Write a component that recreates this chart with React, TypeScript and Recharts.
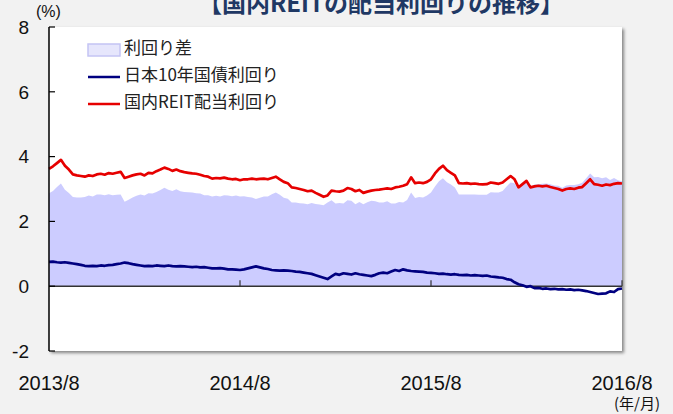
import React from 'react';
import { ComposedChart, Area, Line, XAxis, YAxis, ReferenceLine } from 'recharts';

// Time axis: months since 2013/8, sampled four times per month (weekly)
const samplesPerMonth = 4;
const xTicks = [0, 12, 24, 36];
const xTickLabels = ['2013/8', '2014/8', '2015/8', '2016/8'];
const yTicks = [-2, 0, 2, 4, 6, 8];

const titleText = '【国内REITの配当利回りの推移】';
const yUnit = '(%)';
const xUnit = '(年/月)';
const spreadName = '利回り差';
const jgbName = '日本10年国債利回り';
const reitName = '国内REIT配当利回り';

const reitYield = [
  3.62, 3.70, 3.80, 3.90, 3.72, 3.60, 3.45, 3.42, 3.40, 3.38,
  3.42, 3.40, 3.45, 3.47, 3.44, 3.49, 3.47, 3.50, 3.53, 3.34,
  3.38, 3.42, 3.45, 3.47, 3.42, 3.50, 3.48, 3.55, 3.60, 3.66,
  3.62, 3.56, 3.60, 3.55, 3.52, 3.50, 3.48, 3.47, 3.44, 3.40,
  3.38, 3.32, 3.34, 3.33, 3.35, 3.32, 3.30, 3.31, 3.27, 3.30,
  3.30, 3.32, 3.30, 3.31, 3.32, 3.30, 3.34, 3.38, 3.30, 3.22,
  3.18, 3.05, 3.03, 3.00, 2.97, 2.93, 2.95, 2.88, 2.82, 2.76,
  2.80, 2.95, 2.93, 2.92, 2.95, 3.03, 3.00, 2.93, 2.97, 2.88,
  2.92, 2.95, 2.97, 2.98, 3.00, 3.02, 3.00, 3.05, 3.07, 3.10,
  3.15, 3.36, 3.18, 3.20, 3.18, 3.22, 3.30, 3.48, 3.62, 3.72,
  3.58, 3.50, 3.42, 3.18, 3.17, 3.18, 3.16, 3.17, 3.15, 3.14,
  3.15, 3.20, 3.18, 3.16, 3.20, 3.30, 3.40, 3.30, 3.05, 3.15,
  3.25, 3.05, 3.08, 3.10, 3.08, 3.10, 3.06, 3.03, 3.00, 2.95,
  3.00, 3.02, 3.00, 3.04, 3.06, 3.18, 3.30, 3.15, 3.13, 3.10,
  3.14, 3.12, 3.16, 3.18, 3.17,
];

const jgbYield = [
  0.75, 0.76, 0.74, 0.73, 0.74, 0.72, 0.70, 0.68, 0.66, 0.63,
  0.62, 0.63, 0.62, 0.64, 0.63, 0.65, 0.66, 0.68, 0.70, 0.73,
  0.71, 0.68, 0.66, 0.64, 0.62, 0.63, 0.62, 0.64, 0.63, 0.62,
  0.64, 0.62, 0.61, 0.62, 0.61, 0.60, 0.59, 0.60, 0.58, 0.59,
  0.57, 0.55, 0.55, 0.56, 0.54, 0.52, 0.52, 0.51, 0.50, 0.52,
  0.55, 0.58, 0.61, 0.58, 0.55, 0.53, 0.50, 0.49, 0.48, 0.49,
  0.48, 0.47, 0.45, 0.44, 0.42, 0.40, 0.38, 0.34, 0.30, 0.26,
  0.22, 0.30, 0.38, 0.35, 0.40, 0.38, 0.36, 0.40, 0.37, 0.35,
  0.33, 0.31, 0.35, 0.40, 0.42, 0.40, 0.45, 0.50, 0.47, 0.52,
  0.49, 0.47, 0.46, 0.45, 0.44, 0.42, 0.41, 0.40, 0.38, 0.39,
  0.37, 0.36, 0.37, 0.35, 0.34, 0.35, 0.33, 0.34, 0.33, 0.32,
  0.33, 0.30, 0.29, 0.27, 0.26, 0.22, 0.20, 0.12, 0.06, 0.03,
  -0.02, 0.00, -0.06, -0.05, -0.08, -0.07, -0.09, -0.08, -0.10, -0.09,
  -0.11, -0.10, -0.12, -0.11, -0.13, -0.15, -0.18, -0.21, -0.24, -0.23,
  -0.22, -0.16, -0.18, -0.09, -0.07,
];

const data = reitYield.map((r, i) => ({
  t: i / samplesPerMonth,
  reit: r,
  jgb: jgbYield[i],
  spread: +(r - jgbYield[i]).toFixed(2),
}));

const SPREAD_FILL = '#ccccff';
const JGB_COLOR = '#000080';
const REIT_COLOR = '#e60000';
const LATIN = "'Liberation Sans', Arial, sans-serif";
const CJK = "'Noto Sans CJK JP', 'Noto Sans', sans-serif";

export default function App() {
  return (
    <div
      style={{
        position: 'fixed',
        left: 0,
        top: 0,
        width: 673,
        height: 414,
        background: '#f2f2f2',
        overflow: 'hidden',
      }}
    >
      <div
        style={{
          position: 'absolute',
          left: 49,
          top: 27,
          width: 573,
          height: 324,
          background: '#ffffff',
          boxShadow: '2px 2px 3px rgba(0,0,0,0.45)',
        }}
      />
      <div style={{ position: 'absolute', left: 0, top: 0 }}>
        <ComposedChart
          width={673}
          height={414}
          data={data}
          margin={{ top: 27, right: 51, bottom: 23, left: 0 }}
        >
          <XAxis
            type="number"
            dataKey="t"
            domain={[0, 36]}
            ticks={xTicks}
            interval={0}
            tickFormatter={(v: number) => xTickLabels[xTicks.indexOf(v)]}
            axisLine={false}
            tickLine={false}
            tickSize={0}
            tickMargin={25}
            height={40}
            tick={{ fontSize: 20, fill: '#111', fontFamily: LATIN }}
          />
          <YAxis
            type="number"
            domain={[-2, 8]}
            ticks={yTicks}
            interval={0}
            width={49}
            allowDataOverflow
            tickSize={-6}
            tickMargin={26}
            axisLine={{ stroke: '#000', strokeWidth: 1.5 }}
            tickLine={{ stroke: '#000', strokeWidth: 1.2 }}
            tick={{ fontSize: 19, fill: '#111', fontFamily: LATIN }}
          />
          <Area
            type="linear"
            dataKey="spread"
            name={spreadName}
            baseValue={0}
            fill={SPREAD_FILL}
            fillOpacity={1}
            stroke="none"
            isAnimationActive={false}
          />
          <ReferenceLine y={0} stroke="#333" strokeWidth={1.5} />
          {xTicks.slice(1).map((t) => (
            <ReferenceLine
              key={t}
              segment={[
                { x: t, y: 0 },
                { x: t, y: 0.18 },
              ]}
              stroke="#333"
              strokeWidth={1.2}
            />
          ))}
          <Line
            type="linear"
            dataKey="jgb"
            name={jgbName}
            stroke={JGB_COLOR}
            strokeWidth={2.7}
            dot={false}
            strokeLinejoin="round"
            isAnimationActive={false}
          />
          <Line
            type="linear"
            dataKey="reit"
            name={reitName}
            stroke={REIT_COLOR}
            strokeWidth={2.7}
            dot={false}
            strokeLinejoin="round"
            isAnimationActive={false}
          />
        </ComposedChart>
      </div>
      <svg
        width={673}
        height={414}
        style={{ position: 'absolute', left: 0, top: 0, pointerEvents: 'none' }}
      >
        <text
          x={381}
          y={12}
          textAnchor="middle"
          fontSize={24}
          fontWeight="bold"
          fill="#1f3864"
          fontFamily={CJK}
        >
          {titleText}
        </text>
        <text x={36} y={17} fontSize={16} fill="#111" fontFamily={LATIN}>
          {yUnit}
        </text>
        <text x={660} y={409} textAnchor="end" fontSize={15} fill="#111" fontFamily={CJK}>
          {xUnit}
        </text>
        <rect x={88} y={44} width={32} height={12} fill="#e6e6fc" stroke="#c4c4f4" strokeWidth={1.5} />
        <text x={124} y={54} fontSize={17} fill="#222" fontFamily={CJK}>
          {spreadName}
        </text>
        <line x1={88} x2={120} y1={77} y2={77} stroke={JGB_COLOR} strokeWidth={2.5} />
        <text x={124} y={81} fontSize={17} fill="#222" fontFamily={CJK}>
          {jgbName}
        </text>
        <line x1={88} x2={120} y1={104} y2={104} stroke={REIT_COLOR} strokeWidth={2.5} />
        <text x={124} y={108} fontSize={17} fill="#222" fontFamily={CJK}>
          {reitName}
        </text>
      </svg>
    </div>
  );
}
